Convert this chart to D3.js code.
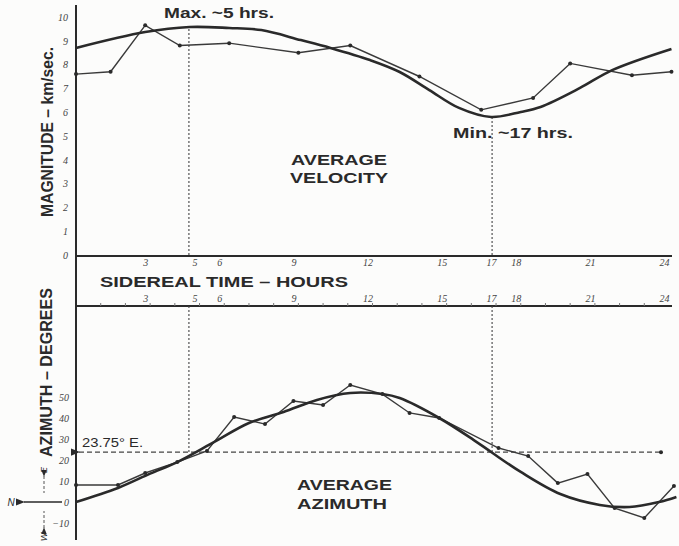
<!DOCTYPE html>
<html lang="en">
  <head>
    <meta charset="utf-8">
    <title>Sidereal velocity and azimuth</title>
    <script src="https://d3js.org/d3.v7.js"></script>
    <style>
      body { margin: 0; background: #fcfcfb; }
      text { font-family: "Liberation Sans", Arial, sans-serif; fill: #2a2a2a; }
      .tick text { font-family: "Liberation Serif", serif; font-style: italic; font-size: 10px; fill: #444; }
    </style>
  </head>
  <body>
  <script>

// sidereal hours of each measurement, and the readings
var velHours = [0, 1.4, 2.8, 4.2, 6.2, 9.0, 11.1, 13.9, 16.4, 18.5, 20.0, 22.5, 24.1];
var velValues = [7.6, 7.7, 9.65, 8.8, 8.9, 8.5, 8.8, 7.5, 6.1, 6.6, 8.05, 7.55, 7.7];

// fitted curve for velocity
var velFitHours = [0, 2.8, 4.6, 6.2, 7.5, 9.1, 10.3, 11.9, 13.1, 14.3, 15.5, 16.8, 18.0, 18.8, 20.4, 21.7, 24.1];
var velFitValues = [8.7, 9.37, 9.58, 9.54, 9.45, 9.03, 8.7, 8.19, 7.69, 6.93, 6.18, 5.8, 6.01, 6.22, 7.02, 7.77, 8.66];

var azHours = [0, 1.7, 2.8, 4.1, 5.3, 6.4, 7.65, 8.8, 10.0, 11.1, 12.4, 13.5, 14.7, 17.1, 18.3, 19.5, 20.7, 21.8, 23.0, 24.2];
var azValues = [8.1, 8.1, 13.8, 19.0, 24.3, 40.5, 37.1, 48.1, 46.2, 55.7, 51.4, 42.4, 40.0, 25.7, 21.9, 9.0, 13.3, -2.9, -7.6, 7.6];

var azFitHours = [0, 1.7, 3.0, 4.1, 5.6, 7.0, 8.4, 9.75, 11.1, 12.4, 13.1, 14.7, 16.1, 16.8, 18.0, 19.6, 21.2, 22.4, 23.6, 24.3];
var azFitValues = [0, 6.7, 13.5, 19.0, 28.6, 37.6, 42.9, 48.6, 51.9, 51.4, 49.5, 40.0, 29.5, 23.8, 14.3, 3.8, -1.4, -2.4, 0, 2.4];

var hourTicks = [3, 5, 6, 9, 12, 15, 17, 18, 21, 24];
var velTicks = [0, 1, 2, 3, 4, 5, 6, 7, 8, 9, 10];
var azTicks = [-10, 0, 10, 20, 30, 40, 50];

var maxHour = 4.57;
var minHour = 16.84;
var meanAzimuth = 23.75;

var w = 679;
var h = 546;
var ink = "#2a2a2a";

var svg = d3.select("body")
  .append("svg")
    .attr("width", w)
    .attr("height", h);

var defs = svg.append("defs");
defs.append("marker")
    .attr("id", "arrow")
    .attr("viewBox", "0 0 10 10")
    .attr("refX", 1).attr("refY", 5)
    .attr("markerWidth", 7).attr("markerHeight", 7)
    .attr("orient", "auto-start-reverse")
  .append("path")
    .attr("d", "M10,1 L0,5 L10,9 z")
    .attr("fill", ink);

var xScale = d3.scaleLinear().domain([0, 24]).range([76, 669]);
var yVel = d3.scaleLinear().domain([0, 10]).range([255, 17]);
var yAz = d3.scaleLinear().domain([0, 50]).range([502, 397]);

var xTop = 256, xMid = 306;

// axis lines
svg.append("line").attr("x1", 76).attr("x2", 76).attr("y1", 5).attr("y2", 540)
    .attr("stroke", ink).attr("stroke-width", 2);
svg.append("line").attr("x1", 76).attr("x2", 672).attr("y1", xTop).attr("y2", xTop)
    .attr("stroke", ink).attr("stroke-width", 2);
svg.append("line").attr("x1", 76).attr("x2", 672).attr("y1", xMid).attr("y2", xMid)
    .attr("stroke", ink).attr("stroke-width", 2);

// hour labels under the top panel and over the bottom one
var axTop = svg.append("g")
    .attr("transform", `translate(0, ${xTop})`)
    .call(d3.axisBottom(xScale).tickValues(hourTicks).tickSize(0).tickPadding(3));
axTop.select(".domain").remove();
axTop.selectAll("text").attr("dx", -5);

var axMid = svg.append("g")
    .attr("transform", `translate(0, ${xMid})`)
    .call(d3.axisTop(xScale).tickValues(hourTicks).tickSize(0).tickPadding(4));
axMid.select(".domain").remove();
axMid.selectAll("text").attr("dx", -5);

// small hour marks
svg.append("g").selectAll("line")
    .data(d3.range(1, 24))
  .enter().append("line")
    .attr("x1", d => xScale(d)).attr("x2", d => xScale(d))
    .attr("y1", xMid).attr("y2", xMid - 3)
    .attr("stroke", "#777").attr("stroke-width", 1);

var axVel = svg.append("g")
    .attr("transform", "translate(76, 0)")
    .call(d3.axisLeft(yVel).tickValues(velTicks).tickSize(0).tickPadding(8));
axVel.select(".domain").remove();

var axAz = svg.append("g")
    .attr("transform", "translate(76, 0)")
    .call(d3.axisLeft(yAz).tickValues(azTicks).tickSize(0).tickPadding(7));
axAz.select(".domain").remove();

// dashed guides
var guide = svg.append("g")
    .attr("stroke", "#444").attr("stroke-width", 1.1).attr("stroke-dasharray", "2,2");
guide.append("line")
    .attr("x1", xScale(maxHour)).attr("x2", xScale(maxHour))
    .attr("y1", yVel(9.5)).attr("y2", xTop);
guide.append("line")
    .attr("x1", xScale(minHour)).attr("x2", xScale(minHour))
    .attr("y1", yVel(5.8)).attr("y2", xTop);
guide.append("line")
    .attr("x1", xScale(maxHour)).attr("x2", xScale(maxHour))
    .attr("y1", xMid).attr("y2", yAz(meanAzimuth));
guide.append("line")
    .attr("x1", xScale(minHour)).attr("x2", xScale(minHour))
    .attr("y1", xMid).attr("y2", yAz(meanAzimuth));

svg.append("line")
    .attr("x1", 79).attr("x2", 661)
    .attr("y1", yAz(meanAzimuth)).attr("y2", yAz(meanAzimuth))
    .attr("stroke", "#444").attr("stroke-width", 1.3)
    .attr("stroke-dasharray", "5,3")
    .attr("marker-start", "url(#arrow)");
svg.append("circle")
    .attr("cx", 661).attr("cy", yAz(meanAzimuth)).attr("r", 2)
    .attr("fill", ink);

// curves
var fitLine = (y) => d3.line()
    .x(d => xScale(d[0]))
    .y(d => y(d[1]))
    .curve(d3.curveCatmullRom.alpha(0.5));
var rawLine = (y) => d3.line()
    .x(d => xScale(d[0]))
    .y(d => y(d[1]));

var velFit = d3.zip(velFitHours, velFitValues);
var velData = d3.zip(velHours, velValues);
var azFit = d3.zip(azFitHours, azFitValues);
var azData = d3.zip(azHours, azValues);

svg.append("path").attr("d", rawLine(yVel)(velData))
    .attr("fill", "none").attr("stroke", "#3a3a3a").attr("stroke-width", 1.4);
svg.append("path").attr("d", fitLine(yVel)(velFit))
    .attr("fill", "none").attr("stroke", ink).attr("stroke-width", 2.6);
svg.append("g").selectAll("circle")
    .data(velData)
  .enter().append("circle")
    .attr("cx", d => xScale(d[0])).attr("cy", d => yVel(d[1])).attr("r", 2)
    .attr("fill", ink);

svg.append("path").attr("d", rawLine(yAz)(azData))
    .attr("fill", "none").attr("stroke", "#3a3a3a").attr("stroke-width", 1.4);
svg.append("path").attr("d", fitLine(yAz)(azFit))
    .attr("fill", "none").attr("stroke", ink).attr("stroke-width", 2.6);
svg.append("g").selectAll("circle")
    .data(azData)
  .enter().append("circle")
    .attr("cx", d => xScale(d[0])).attr("cy", d => yAz(d[1])).attr("r", 2)
    .attr("fill", ink);

// compass marker N / E / W beside the azimuth axis
svg.append("line").attr("x1", 24).attr("x2", 62).attr("y1", 502).attr("y2", 502)
    .attr("stroke", ink).attr("stroke-width", 1.3).attr("marker-start", "url(#arrow)");
svg.append("line").attr("x1", 44).attr("x2", 44).attr("y1", 476).attr("y2", 493)
    .attr("stroke", "#555").attr("stroke-width", 1).attr("stroke-dasharray", "3,2")
    .attr("marker-start", "url(#arrow)");
svg.append("line").attr("x1", 44).attr("x2", 44).attr("y1", 528).attr("y2", 511)
    .attr("stroke", "#555").attr("stroke-width", 1).attr("stroke-dasharray", "3,2")
    .attr("marker-start", "url(#arrow)");
svg.append("text").attr("x", 11).attr("y", 506).attr("text-anchor", "middle")
    .attr("font-size", 10).attr("font-style", "italic").text("N");
svg.append("text").attr("transform", "translate(47, 470) rotate(-90)")
    .attr("text-anchor", "middle").attr("font-size", 9).attr("font-style", "italic").text("E");
svg.append("text").attr("transform", "translate(47, 537) rotate(-90)")
    .attr("text-anchor", "middle").attr("font-size", 9).attr("font-style", "italic").text("W");

// labels
function label(x, y, s, size, len) {
  var t = svg.append("text")
      .attr("x", x).attr("y", y)
      .attr("font-size", size).attr("font-weight", "bold")
      .text(s);
  if (len) t.attr("textLength", len).attr("lengthAdjust", "spacingAndGlyphs");
  return t;
}

label(164, 18, "Max. ~5 hrs.", 15, 110);
label(453, 138, "Min. ~17 hrs.", 15, 120);
label(291, 165, "AVERAGE", 15.5, 96);
label(290, 183, "VELOCITY", 15.5, 98);
label(297, 490, "AVERAGE", 15.5, 95);
label(297, 509, "AZIMUTH", 15.5, 90);
label(100, 287, "SIDEREAL TIME \u2013 HOURS", 15, 248);
label(82, 447, "23.75\u00b0 E.", 12, 61).attr("font-weight", "normal");

label(0, 0, "MAGNITUDE \u2013 km/sec.", 16, 170)
    .attr("transform", "translate(53, 217) rotate(-90)");
label(0, 0, "AZIMUTH \u2013 DEGREES", 16, 169)
    .attr("transform", "translate(52, 457) rotate(-90)");

  </script>
  </body>
</html>
